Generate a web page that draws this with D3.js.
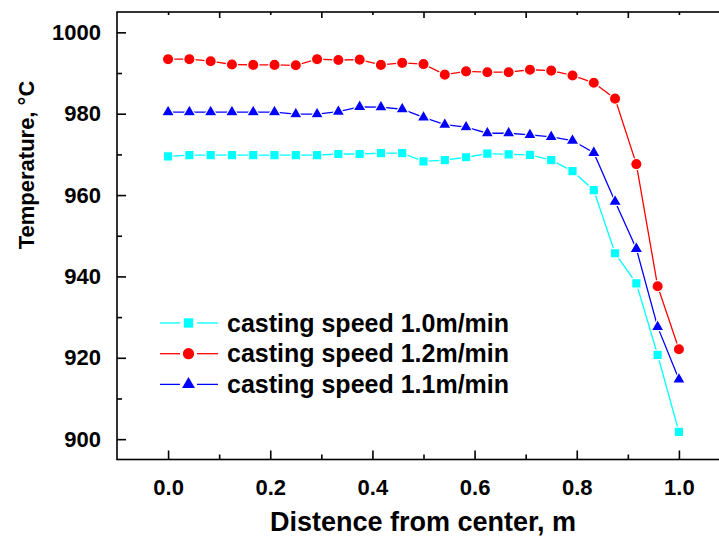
<!DOCTYPE html>
<html>
<head>
<meta charset="utf-8">
<script src="https://cdn.jsdelivr.net/npm/d3@7"></script>
<style>
  body { margin: 0; background: #fff; }
  svg { display: block; font-family: "Liberation Sans", Arial, sans-serif; }
</style>
</head>
<body>
<script>
// distance from center, m (25 points, step 1/24)
const distance = d3.range(25).map(i => i / 24);

const speed10 = [969.5, 969.8, 969.8, 969.8, 969.8, 969.8, 969.8, 969.8, 970.1, 970.1, 970.3, 970.3,
  968.3, 968.6, 969.3, 970.2, 970.0, 969.9, 968.6, 965.9, 961.2, 945.7, 938.3, 920.7, 901.8];
const speed12 = [993.4, 993.4, 992.9, 992.1, 992.0, 992.0, 991.9, 993.4, 993.2, 993.3, 992.0, 992.5,
  992.2, 989.6, 990.4, 990.2, 990.2, 990.8, 990.6, 989.4, 987.6, 983.7, 967.6, 937.6, 922.1];
const speed11 = [980.4, 980.4, 980.4, 980.4, 980.4, 980.4, 979.9, 979.9, 980.5, 981.7, 981.6, 981.1,
  979.1, 977.3, 976.7, 975.2, 975.2, 974.8, 974.3, 973.4, 970.4, 958.4, 946.8, 927.6, 914.7];

const seriesNames = ["casting speed 1.0m/min", "casting speed 1.2m/min", "casting speed 1.1m/min"];
const seriesColors = ["#00ffff", "#ff0000", "#0000ff"];
const seriesSymbols = [d3.symbolSquare, d3.symbolCircle, d3.symbolTriangle];
const seriesSizes = [88, 100, 72];

const xTicks = [0, 0.2, 0.4, 0.6, 0.8, 1.0];
const yTicks = [900, 920, 940, 960, 980, 1000];

const width = 719, height = 538;
const svg = d3.select("body").append("svg")
  .attr("width", width).attr("height", height);

// right side of the frame falls just outside the picture, as in the original
const x = d3.scaleLinear().domain([-0.1, 1.1]).range([117, 730]);
const y = d3.scaleLinear().domain([895, 1005]).range([459.5, 12]);

svg.append("rect")
  .attr("x", x(-0.1)).attr("y", y(1005))
  .attr("width", x(1.1) - x(-0.1)).attr("height", y(895) - y(1005))
  .attr("fill", "none").attr("stroke", "#000").attr("stroke-width", 1.6);

function styleAxis(g) {
  g.select(".domain").remove();
  g.selectAll(".tick line").attr("stroke", "#000").attr("stroke-width", 1.6);
}

// bottom axis
svg.append("g").attr("transform", `translate(0,${y(895)})`)
  .call(d3.axisBottom(x).tickValues(xTicks).tickSize(-9).tickPadding(20).tickFormat(d3.format(".1f")))
  .call(styleAxis)
  .call(g => g.selectAll("text").attr("font-size", 22).attr("font-weight", "bold").attr("fill", "#000"));
svg.append("g").attr("transform", `translate(0,${y(895)})`)
  .call(d3.axisBottom(x).tickValues([0.1, 0.3, 0.5, 0.7, 0.9]).tickSize(-5).tickFormat(""))
  .call(styleAxis);

// top axis
svg.append("g").attr("transform", `translate(0,${y(1005)})`)
  .call(d3.axisTop(x).tickValues([0.1, 0.3, 0.5, 0.7, 0.9]).tickSize(-6).tickFormat(""))
  .call(styleAxis);
svg.append("g").attr("transform", `translate(0,${y(1005)})`)
  .call(d3.axisTop(x).tickValues(xTicks).tickSize(-3).tickFormat(""))
  .call(styleAxis);

// left axis
svg.append("g").attr("transform", `translate(${x(-0.1)},0)`)
  .call(d3.axisLeft(y).tickValues(yTicks).tickSize(-9).tickPadding(16).tickFormat(d3.format("d")))
  .call(styleAxis)
  .call(g => g.selectAll("text").attr("font-size", 22).attr("font-weight", "bold").attr("fill", "#000"));
svg.append("g").attr("transform", `translate(${x(-0.1)},0)`)
  .call(d3.axisLeft(y).tickValues([910, 930, 950, 970, 990]).tickSize(-5).tickFormat(""))
  .call(styleAxis);

// axis titles
svg.append("text")
  .attr("transform", `translate(34,165) rotate(-90)`)
  .attr("text-anchor", "middle")
  .attr("font-size", 22).attr("font-weight", "bold")
  .text("Temperature, °C");

svg.append("text")
  .attr("x", 423).attr("y", 531)
  .attr("text-anchor", "middle")
  .attr("font-size", 27).attr("font-weight", "bold")
  .text("Distence from center, m");

// series
const allSeries = [speed10, speed12, speed11];
const line = d3.line().x((d, i) => x(distance[i])).y(d => y(d));

allSeries.forEach((vals, k) => {
  svg.append("path")
    .datum(vals)
    .attr("d", line)
    .attr("fill", "none")
    .attr("stroke", seriesColors[k])
    .attr("stroke-width", 1.3);
});
allSeries.forEach((vals, k) => {
  svg.append("g").selectAll("path")
    .data(vals)
    .join("path")
    .attr("transform", (d, i) => `translate(${x(distance[i])},${y(d)})`)
    .attr("d", d3.symbol(seriesSymbols[k], seriesSizes[k]))
    .attr("fill", seriesColors[k])
    .attr("stroke", "#fff")
    .attr("stroke-width", 1.2);
});

// legend
const legend = svg.append("g");
seriesNames.forEach((name, k) => {
  const ly = 323 + k * 30.7;
  legend.append("line").attr("x1", 160).attr("x2", 180).attr("y1", ly).attr("y2", ly)
    .attr("stroke", seriesColors[k]).attr("stroke-width", 1.3);
  legend.append("line").attr("x1", 197).attr("x2", 218).attr("y1", ly).attr("y2", ly)
    .attr("stroke", seriesColors[k]).attr("stroke-width", 1.3);
  legend.append("path")
    .attr("transform", `translate(188.5,${ly})`)
    .attr("d", d3.symbol(seriesSymbols[k], seriesSizes[k]))
    .attr("fill", seriesColors[k]);
  legend.append("text")
    .attr("x", 227).attr("y", ly + 8.5)
    .attr("font-size", 25).attr("font-weight", "bold")
    .text(name);
});
</script>
</body>
</html>
